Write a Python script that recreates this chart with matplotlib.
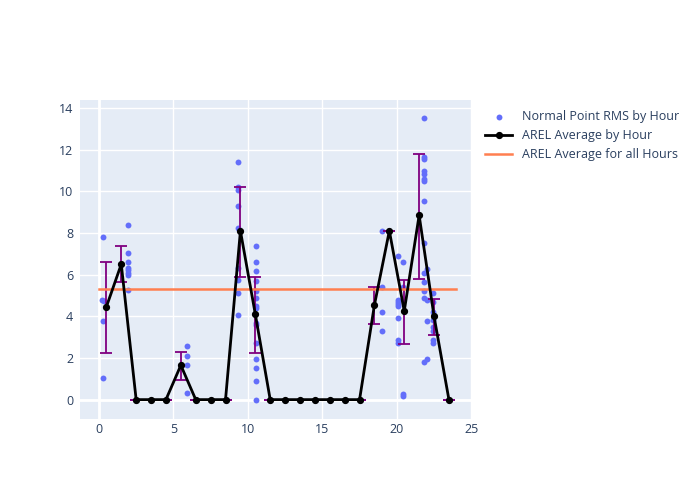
import matplotlib
matplotlib.use("Agg")
import matplotlib.pyplot as plt
import numpy as np

plt.rcParams["font.family"] = ["Open Sans", "DejaVu Sans"]

# scattered RMS points (x = time of day in hours)
point_x = [0.27, 0.2, 0.35, 0.27, 0.27,
           1.92, 1.92, 1.92, 1.92, 1.92, 1.92, 1.92, 1.92,
           5.9, 5.9, 5.9, 5.9,
           9.37, 9.37, 9.37, 9.37, 9.37, 9.37, 9.37, 9.37, 9.37,
           10.54, 10.54, 10.54, 10.54, 10.54, 10.54, 10.54, 10.54, 10.54, 10.54,
           10.54, 10.54, 10.54, 10.54, 10.54,
           19.0, 19.0, 19.0, 19.0,
           20.1, 20.1, 20.1, 20.1, 20.1, 20.1, 20.1, 20.1,
           20.45, 20.45, 20.45, 20.45,
           21.8, 21.8, 21.8, 21.8, 21.8, 21.8, 21.8, 21.8, 21.8, 21.8, 21.8,
           21.8, 21.8, 21.8,
           22.06, 22.06, 22.06, 22.06,
           22.4, 22.4, 22.4, 22.4, 22.4, 22.4, 22.4, 22.4]
point_y = [7.8, 4.8, 4.75, 3.75, 1.05,
           8.4, 7.05, 6.6, 6.3, 6.2, 6.1, 6.0, 5.25,
           2.55, 2.1, 1.65, 0.3,
           11.4, 10.2, 10.05, 9.3, 8.25, 6.3, 5.75, 5.1, 4.05,
           7.35, 6.6, 6.15, 5.7, 5.2, 4.9, 4.5, 4.4, 3.7, 3.6,
           2.7, 1.95, 1.5, 0.9, 0.0,
           8.1, 5.4, 4.2, 3.3,
           6.9, 4.8, 4.7, 4.6, 4.5, 3.9, 2.85, 2.7,
           6.6, 5.4, 0.27, 0.15,
           13.5, 11.65, 11.55, 10.95, 10.85, 10.6, 10.5, 9.55, 7.5, 6.1, 5.65,
           5.2, 4.9, 1.8,
           6.25, 4.8, 3.75, 1.95,
           5.1, 4.7, 4.2, 3.8, 3.5, 3.3, 2.85, 2.7]

# hourly averages and their spread
hours = np.arange(24) + 0.5
hour_avg = [4.45, 6.5, 0, 0, 0, 1.65, 0, 0, 0, 8.1, 4.1, 0,
            0, 0, 0, 0, 0, 0, 4.55, 8.1, 4.25, 8.85, 4.0, 0]
err_upper = [6.6, 7.38, 0, 0, 0, 2.27, 0, 0, 0, 10.2, 5.88, 0,
             0, 0, 0, 0, 0, 0, 5.4, 8.1, 5.72, 11.78, 4.85, 0]
err_lower = [2.25, 5.65, 0, 0, 0, 0.92, 0, 0, 0, 5.9, 2.25, 0,
             0, 0, 0, 0, 0, 0, 3.65, 8.1, 2.65, 5.8, 3.1, 0]
overall_avg = 5.3

txt = "#2a3f5f"
fig = plt.figure(figsize=(7, 5), dpi=100)
ax = fig.add_axes([0.1143, 0.162, 0.56, 0.638])
ax.set_facecolor("#E5ECF6")

yerr = [np.array(hour_avg) - np.array(err_lower), np.array(err_upper) - np.array(hour_avg)]
ax.errorbar(hours, hour_avg, yerr=yerr, fmt="none", ecolor="purple",
            elinewidth=1.3, capsize=4.5, capthick=1.3, zorder=3)
ax.scatter(point_x, point_y, s=18, color="#636EFA", linewidths=0, zorder=2,
           label="Normal Point RMS by Hour")
ax.plot(hours, hour_avg, color="black", lw=2, marker="o", ms=4.2, zorder=4,
        label="AREL Average by Hour")
ax.plot([0, 24], [overall_avg, overall_avg], color="#FF7F50", lw=1.8, zorder=3,
        label="AREL Average for all Hours")

ax.set_xlim(-1.27, 25.05)
ax.set_ylim(-0.93, 14.38)
ax.set_xticks([0, 5, 10, 15, 20, 25])
ax.set_yticks(range(0, 15, 2))
ax.grid(color="white", lw=1)
ax.axhline(0, color="white", lw=2, zorder=1)
ax.axvline(0, color="white", lw=2, zorder=1)
ax.set_axisbelow(True)
for s in ax.spines.values():
    s.set_visible(False)
ax.tick_params(length=0, labelsize=9, colors=txt, pad=5)
ax.tick_params(axis="x", pad=3)

leg = ax.legend(loc="upper left", bbox_to_anchor=(1.02, 0.985), frameon=False,
                fontsize=9, labelcolor=txt, handlelength=2.2, borderaxespad=0)

plt.savefig("out.png", dpi=100)
